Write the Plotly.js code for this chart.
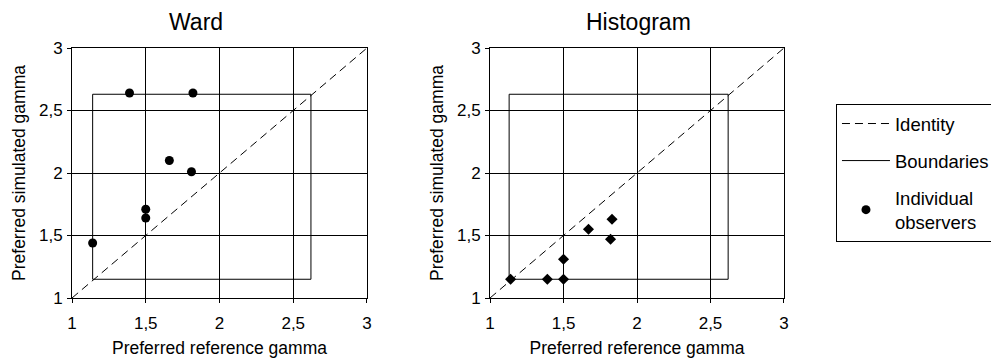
<!DOCTYPE html>
<html>
<head>
<meta charset="utf-8">
<script src="https://cdn.plot.ly/plotly-3.0.1.min.js"></script>
<style>
  html, body { margin: 0; padding: 0; background: #fff; }
  #chart { width: 991px; height: 361px; }
</style>
</head>
<body>
<div id="chart"></div>
<script>
// ---- data ----
const panelTitles = ['Ward', 'Histogram'];
const tickVals = [1, 1.5, 2, 2.5, 3];
const tickText = ['1', '1,5', '2', '2,5', '3'];
const xTitle = 'Preferred reference gamma';
const yTitle = 'Preferred simulated gamma';
const legendNames = ['Identity', 'Boundaries', 'Individual<br>observers'];

const identityX = [1, 3];
const identityY = [1, 3];

const wardBoundX = [1.14, 2.62, 2.62, 1.14, 1.14];
const wardBoundY = [1.15, 1.15, 2.63, 2.63, 1.15];
const histBoundX = [1.13, 2.62, 2.62, 1.13, 1.13];
const histBoundY = [1.15, 1.15, 2.63, 2.63, 1.15];

const wardX = [1.14, 1.39, 1.82, 1.66, 1.81, 1.50, 1.50];
const wardY = [1.44, 2.64, 2.64, 2.10, 2.01, 1.71, 1.64];
const histX = [1.14, 1.39, 1.50, 1.50, 1.67, 1.83, 1.82];
const histY = [1.15, 1.15, 1.15, 1.31, 1.55, 1.63, 1.47];

// ---- traces ----
const dashLine = { color: '#000', width: 1, dash: '8px,5px' };
const solidLine = { color: '#000', width: 1 };

const traces = [
  { x: identityX, y: identityY, xaxis: 'x', yaxis: 'y', mode: 'lines', line: dashLine,
    name: legendNames[0], legendgroup: 'g1', showlegend: true, hoverinfo: 'skip' },
  { x: wardBoundX, y: wardBoundY, xaxis: 'x', yaxis: 'y', mode: 'lines', line: solidLine,
    name: legendNames[1], legendgroup: 'g2', showlegend: true, hoverinfo: 'skip' },
  { x: wardX, y: wardY, xaxis: 'x', yaxis: 'y', mode: 'markers',
    marker: { symbol: 'circle', size: 9, color: '#000' },
    name: legendNames[2], legendgroup: 'g3', showlegend: true },
  { x: identityX, y: identityY, xaxis: 'x2', yaxis: 'y2', mode: 'lines', line: dashLine,
    showlegend: false, hoverinfo: 'skip' },
  { x: histBoundX, y: histBoundY, xaxis: 'x2', yaxis: 'y2', mode: 'lines', line: solidLine,
    showlegend: false, hoverinfo: 'skip' },
  { x: histX, y: histY, xaxis: 'x2', yaxis: 'y2', mode: 'markers',
    marker: { symbol: 'diamond', size: 8.5, color: '#000' },
    showlegend: false }
];

const FONT = 'Liberation Sans, Arial, sans-serif';

function xAxis(domain, anchor) {
  return {
    domain: domain, anchor: anchor, range: [1, 3], fixedrange: true,
    tickvals: tickVals, ticktext: tickText,
    showgrid: true, gridcolor: '#000', gridwidth: 1, zeroline: false,
    showline: true, linecolor: '#000', linewidth: 1, mirror: true,
    ticks: 'outside', ticklen: 4, tickcolor: '#000', ticklabelstandoff: 6,
    tickfont: { family: FONT, size: 17, color: '#000' },
    title: { text: xTitle, font: { family: FONT, size: 17.5, color: '#000' }, standoff: 9 }
  };
}
function yAxis(anchor) {
  return {
    domain: [0, 1], anchor: anchor, range: [1, 3], fixedrange: true,
    tickvals: tickVals, ticktext: tickText,
    showgrid: true, gridcolor: '#000', gridwidth: 1, zeroline: false,
    showline: true, linecolor: '#000', linewidth: 1, mirror: true,
    ticks: 'outside', ticklen: 4, tickcolor: '#000', ticklabelstandoff: 1,
    tickfont: { family: FONT, size: 17, color: '#000' },
    title: { text: yTitle, font: { family: FONT, size: 17.5, color: '#000' }, standoff: 8 }
  };
}

const layout = {
  width: 991, height: 361,
  margin: { l: 72, r: 207, t: 48, b: 63, autoexpand: false },
  paper_bgcolor: '#fff', plot_bgcolor: '#fff',
  font: { family: FONT, color: '#000' },
  xaxis: xAxis([0, 0.4143], 'y'),
  yaxis: yAxis('x'),
  xaxis2: xAxis([0.5871, 1], 'y2'),
  yaxis2: yAxis('x2'),
  showlegend: true,
  legend: {
    x: 1.073, xanchor: 'left', y: 0.776, yanchor: 'top',
    bordercolor: '#000', borderwidth: 1, bgcolor: '#fff',
    font: { family: FONT, size: 18.5, color: '#000' },
    itemwidth: 48, tracegroupgap: 10, traceorder: 'grouped'
  },
  annotations: [
    { text: panelTitles[0], xref: 'paper', yref: 'paper', x: 0.174, y: 1, xanchor: 'center',
      yanchor: 'middle', yshift: 26, showarrow: false, font: { family: FONT, size: 23, color: '#000' } },
    { text: panelTitles[1], xref: 'paper', yref: 'paper', x: 0.795, y: 1, xanchor: 'center',
      yanchor: 'middle', yshift: 26, showarrow: false, font: { family: FONT, size: 23, color: '#000' } }
  ]
};

Plotly.newPlot('chart', traces, layout, { staticPlot: true, displayModeBar: false });
</script>
</body>
</html>
